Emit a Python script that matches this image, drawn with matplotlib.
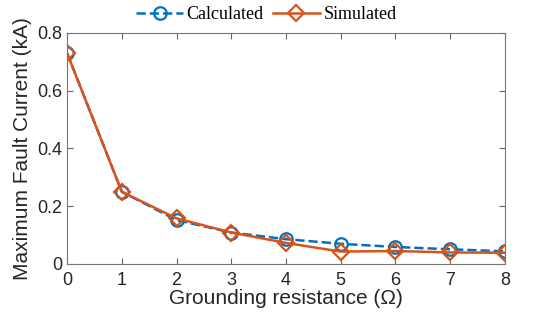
import matplotlib
matplotlib.use('Agg')
import matplotlib.pyplot as plt

# сопротивление заземления, Ом
resistance = [0, 1, 2, 3, 4, 5, 6, 7, 8]
calculated = [0.73, 0.25, 0.152, 0.109, 0.086, 0.070, 0.059, 0.051, 0.044]
simulated = [0.73, 0.25, 0.158, 0.109, 0.073, 0.043, 0.045, 0.040, 0.039]

plt.rcParams['font.family'] = 'Liberation Sans'

fig = plt.figure(figsize=(5.5, 3.2), dpi=100)
ax = fig.add_axes([0.122, 0.175, 0.796, 0.722])

ax.plot(resistance, calculated, linestyle='--', color='#0072BD', marker='o',
        markersize=9, markerfacecolor='none', markeredgewidth=1.6, linewidth=1.8,
        label='Calculated')
ax.plot(resistance, simulated, linestyle='-', color='#D95319', marker='D',
        markersize=8, markerfacecolor='none', markeredgewidth=1.6, linewidth=1.8,
        label='Simulated')

ax.set_xlim(0, 8)
ax.set_ylim(0, 0.8)
ax.set_xticks(range(0, 9))
ax.set_yticks([0, 0.2, 0.4, 0.6, 0.8])
ax.set_yticklabels(['0', '0.2', '0.4', '0.6', '0.8'])
ax.tick_params(direction='in', top=True, right=True, labelsize=13, colors='#666666',
               labelcolor='#262626', length=4, width=0.8)
ax.tick_params(axis='x', pad=6)
for s in ax.spines.values():
    s.set_color('#777777')
    s.set_linewidth(0.8)

ax.set_xlabel('Grounding resistance (Ω)', fontsize=15, color='#262626', labelpad=0)
ax.set_ylabel('Maximum Fault Current (kA)', fontsize=15, color='#262626', labelpad=4)

ax.legend(loc='lower center', bbox_to_anchor=(0.455, 1.01), ncol=2, frameon=False,
          prop={'family': 'Liberation Serif', 'size': 13}, handlelength=2.6,
          columnspacing=0.5, handletextpad=0.2, borderaxespad=0)

fig.savefig('out.png', dpi=100)
